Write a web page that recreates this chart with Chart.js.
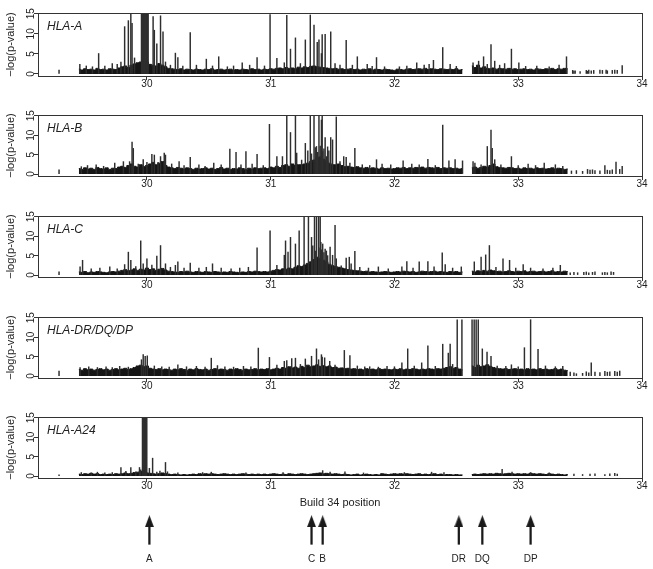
<!DOCTYPE html>
<html>
<head>
<meta charset="utf-8">
<title>HLA association scan</title>
<script src="https://cdn.jsdelivr.net/npm/chart.js@4.4.1/dist/chart.umd.min.js"></script>
<style>
  html, body { margin: 0; padding: 0; background: #fff; }
  #wrap { position: relative; width: 653px; height: 569px; overflow: hidden; }
  #wrap canvas { position: absolute; left: 0; }
</style>
</head>
<body>
<div id="wrap">
  <canvas id="p0" width="653" height="103" style="top:3px"></canvas>
  <canvas id="p1" width="653" height="101" style="top:105px"></canvas>
  <canvas id="p2" width="653" height="101" style="top:206px"></canvas>
  <canvas id="p3" width="653" height="101" style="top:307px"></canvas>
  <canvas id="p4" width="653" height="103" style="top:407px"></canvas>
  <canvas id="genes" width="653" height="64" style="top:505px"></canvas>
</div>
<script>
// axes
const xTicks = [30, 31, 32, 33, 34];
const yTicks = [0, 5, 10, 15];
const panelNames = ['HLA-A', 'HLA-B', 'HLA-C', 'HLA-DR/DQ/DP', 'HLA-A24'];

// dense background band: one value per 0.025 Mb bin from 29.45 to 33.40 (null = no markers)
const binStart = 29.45;
const binStep = 0.025;

const bandA = [
  1.2,1.0,1.3,1.1,1.2,1.0,1.4,1.1,1.2,1.0,1.3,1.2,1.1,1.5,1.8,2.0,1.6,2.2,2.5,2.8,
  3.0,3.2,3.0,2.4,2.2,2.0,2.6,2.2,1.8,1.4,1.3,1.2,1.1,1.3,1.0,1.2,1.1,1.0,1.2,1.1,
  1.0,1.2,1.1,1.3,1.0,1.1,1.2,1.0,1.1,1.2,1.0,1.1,1.0,1.2,1.1,1.0,1.3,1.1,1.2,1.0,
  1.2,1.1,1.3,1.2,1.4,1.5,1.3,1.6,1.4,1.5,1.3,1.7,1.5,1.8,1.6,1.9,2.0,1.8,1.7,1.6,
  1.5,1.4,1.3,1.4,1.2,1.3,1.1,1.2,1.3,1.1,1.2,1.0,1.2,1.1,1.3,1.0,1.2,1.1,1.0,1.2,
  1.1,1.0,0.9,1.2,1.1,1.0,1.2,1.3,1.1,1.2,1.3,1.2,1.4,1.1,1.3,1.2,1.1,1.3,1.2,1.1,
  1.2,1.1,1.3,1.0,1.1,null,null,2.0,1.6,2.2,1.5,1.8,1.4,1.3,1.5,1.2,1.4,1.3,1.2,1.4,
  1.2,1.3,1.1,1.2,1.3,1.1,1.2,1.0,1.3,1.2,1.1,1.3,1.2,1.4,1.1,1.3,1.2,1.4,1.3
];
const bandB = [
  1.4,1.2,1.6,1.3,1.5,1.2,1.7,1.4,1.3,1.6,1.2,1.5,1.4,1.8,2.0,1.7,2.2,2.6,2.0,1.8,
  2.4,1.9,2.2,2.6,3.0,2.4,2.8,3.2,2.2,1.8,1.6,1.4,1.7,1.5,1.3,1.6,1.4,1.2,1.5,1.3,
  1.4,1.6,1.3,1.5,1.2,1.4,1.7,1.3,1.5,1.2,1.4,1.3,1.6,1.4,1.2,1.5,1.3,1.6,1.4,1.5,
  1.6,1.4,1.8,1.6,2.0,1.7,2.2,2.4,2.0,2.6,2.2,2.4,2.4,2.6,2.8,3.2,3.6,4.0,4.4,3.8,
  3.4,2.8,2.4,2.4,2.6,2.2,1.9,2.0,1.8,1.7,1.9,1.6,1.5,1.7,1.4,1.6,1.5,1.3,1.6,1.4,
  1.5,1.3,1.4,1.6,1.5,1.7,1.4,1.6,1.5,1.7,1.6,1.8,1.5,1.7,1.6,1.5,1.7,1.4,1.6,1.5,
  1.6,1.4,1.5,1.3,1.4,null,null,1.6,1.8,1.5,1.7,2.0,1.8,2.2,2.6,1.9,1.7,1.6,1.5,1.7,
  1.6,1.4,1.5,1.3,1.6,1.4,1.5,1.3,1.6,1.4,1.5,1.3,1.4,1.6,1.3,1.5,1.4,1.2,1.3
];
const bandC = [
  0.8,0.7,0.9,0.6,0.8,0.7,0.9,0.8,0.7,0.6,0.8,0.9,0.8,1.0,1.2,1.4,1.1,1.3,1.6,1.2,
  1.5,1.3,1.8,1.4,1.6,1.2,1.5,1.7,1.3,1.0,0.9,0.8,0.7,0.9,0.8,1.0,0.8,0.7,0.9,0.8,
  0.7,0.9,0.8,0.7,0.9,0.8,0.6,0.8,0.7,0.9,0.8,0.7,0.6,0.8,0.7,0.9,0.8,1.0,0.9,0.8,
  0.9,0.8,1.0,1.2,1.4,1.3,1.6,1.5,1.8,1.6,2.0,2.4,2.2,2.6,3.0,3.4,4.0,4.6,4.2,3.8,
  3.4,2.8,2.4,2.2,2.0,1.8,1.6,1.4,1.3,1.2,1.1,1.0,0.9,1.0,0.8,0.9,0.8,0.7,0.8,0.9,
  0.8,0.7,0.8,0.9,0.8,1.0,0.9,0.8,0.9,0.7,0.8,1.0,0.9,0.8,0.9,1.0,0.8,0.9,0.8,0.7,
  0.9,0.8,0.9,0.7,0.8,null,null,1.0,0.8,1.1,0.9,1.2,1.0,1.3,1.1,0.9,1.0,0.8,0.9,1.1,
  0.9,0.8,1.0,0.9,1.1,0.8,0.9,1.0,0.8,0.9,1.0,0.8,0.9,1.1,0.8,0.9,0.8,1.0,0.9
];
const bandD = [
  1.7,1.5,1.9,1.6,1.8,1.5,1.7,1.9,1.6,1.8,1.5,1.7,1.9,1.6,1.8,2.0,1.7,1.9,2.2,2.6,
  2.8,2.4,2.6,2.0,1.8,1.7,1.9,1.6,1.8,1.7,1.5,1.8,1.6,1.9,1.7,1.5,1.8,1.6,1.9,1.7,
  1.6,1.8,1.5,1.7,1.9,1.6,1.8,1.7,1.5,1.8,1.6,1.9,1.7,1.5,1.8,1.6,1.7,1.9,1.6,1.8,
  1.7,1.9,1.6,1.8,2.0,1.8,2.2,2.0,2.4,2.1,2.3,2.0,2.5,2.2,2.8,2.4,2.6,2.9,2.5,2.7,
  2.4,2.6,2.2,2.3,2.0,2.1,1.9,2.0,1.8,1.9,1.7,1.8,1.6,1.9,1.7,1.8,1.6,1.9,1.7,1.8,
  1.7,1.6,1.8,1.7,1.9,1.6,1.8,1.7,1.9,1.8,1.6,1.8,1.7,1.9,1.8,1.7,1.9,1.8,2.0,2.2,
  2.4,2.0,2.2,1.8,1.6,null,null,2.6,2.2,2.8,2.4,2.6,2.9,2.5,2.2,2.0,1.9,1.8,1.9,1.7,
  1.8,1.9,1.7,1.8,1.6,1.9,1.7,1.8,1.6,1.9,1.7,1.8,1.6,1.7,1.9,1.6,1.8,1.5,1.4
];
const bandA24 = [
  0.5,0.4,0.6,0.5,0.7,0.5,0.6,0.4,0.5,0.4,0.5,0.4,0.6,0.5,0.6,0.8,0.6,0.7,0.9,1.0,
  1.2,1.0,0.8,0.7,0.6,0.5,0.6,0.8,0.6,0.5,0.4,0.5,0.4,0.3,0.4,0.3,0.4,0.5,0.4,0.6,
  0.5,0.6,0.5,0.6,0.5,0.4,0.5,0.6,0.5,0.4,0.5,0.4,0.5,0.6,0.5,0.4,0.5,0.4,0.5,0.4,
  0.5,0.4,0.5,0.6,0.5,0.4,0.5,0.4,0.6,0.5,0.4,0.5,0.6,0.5,0.4,0.5,0.6,0.7,0.8,0.6,
  0.7,0.6,0.5,0.6,0.5,0.4,0.5,0.4,0.3,0.4,0.5,0.3,0.4,0.5,0.4,0.3,0.4,0.3,0.6,0.5,
  0.4,0.5,0.6,0.5,0.6,0.5,0.6,0.5,0.4,0.5,0.6,0.4,0.5,0.4,0.5,0.6,0.4,0.5,0.3,0.4,
  0.4,0.3,0.4,0.3,0.3,null,null,0.4,0.5,0.4,0.5,0.6,0.5,0.6,0.5,0.7,0.6,0.5,0.6,0.7,
  0.6,0.5,0.6,0.5,0.6,0.5,0.7,0.6,0.5,0.6,0.5,0.4,0.6,0.5,0.4,0.5,0.4,0.3,0.4
];

// individual markers [position Mb, -log(p)], values above 15 are capped at 15
const peaksA = [
  [29.29,1.0],[29.458,2.4],[29.51,2.0],[29.56,1.8],[29.61,5.1],[29.66,2.0],[29.72,2.6],[29.76,2.4],
  [29.79,3.0],[29.82,11.8],[29.85,13.3],[29.87,15],[29.88,12.6],[29.90,4.0],
  [29.956,15],[29.962,15],[29.968,15],[29.974,15],[29.980,15],[29.986,15],[29.992,15],[29.998,15],[30.004,15],[30.010,15],
  [30.05,14.3],[30.06,10.9],[30.08,7.5],[30.11,14.5],[30.13,10.5],[30.15,3.0],[30.19,2.2],[30.23,5.2],
  [30.25,4.1],[30.29,2.0],[30.35,10.3],[30.40,2.2],[30.48,3.7],[30.53,2.0],[30.58,4.3],[30.65,1.8],
  [30.70,2.0],[30.77,2.8],[30.83,2.2],[30.89,4.1],[30.95,2.0],[30.995,14.8],[31.05,3.9],[31.11,2.8],
  [31.13,14.6],[31.16,6.2],[31.20,9.0],[31.24,2.6],[31.28,8.5],[31.32,14.7],[31.35,12.2],[31.376,7.9],
  [31.39,8.5],[31.41,5.1],[31.416,9.8],[31.44,9.9],[31.485,10.5],[31.52,2.6],[31.56,2.2],[31.61,8.4],
  [31.66,2.2],[31.70,4.3],[31.78,2.4],[31.82,1.9],[31.855,4.1],[31.92,1.8],[32.04,1.8],[32.10,2.0],
  [32.18,2.8],[32.24,2.2],[32.28,2.4],[32.315,3.4],[32.39,6.6],[32.45,2.4],[32.50,1.9],[32.635,2.8],
  [32.68,3.2],[32.72,4.3],[32.75,2.4],[32.78,7.3],[32.81,3.2],[32.85,2.2],[32.89,2.6],[32.945,6.2],
  [33.005,2.8],[33.06,1.9],[33.15,2.0],[33.25,1.8],[33.33,2.2],[33.39,4.3],
  [33.44,0.9],[33.45,0.7],[33.46,0.8],[33.50,0.6],[33.55,0.9],[33.56,0.7],[33.57,1.0],[33.59,0.8],
  [33.61,0.9],[33.66,1.0],[33.68,0.9],[33.71,1.0],[33.72,0.8],[33.76,0.9],[33.78,1.0],[33.80,0.9],[33.84,2.1]
];
const peaksB = [
  [29.29,1.1],[29.47,1.9],[29.52,2.2],[29.59,2.4],[29.65,2.0],[29.74,2.8],[29.81,3.2],[29.86,3.2],
  [29.88,8.2],[29.89,6.6],[29.93,2.6],[29.97,3.7],[30.00,3.0],[30.04,5.1],[30.06,4.9],[30.09,3.0],
  [30.11,4.5],[30.14,5.4],[30.15,4.9],[30.20,2.6],[30.26,3.2],[30.30,2.2],[30.35,4.3],[30.42,2.4],
  [30.47,2.0],[30.54,2.8],[30.60,2.4],[30.67,6.4],[30.72,5.6],[30.76,2.4],[30.80,5.8],[30.85,2.6],
  [30.89,5.1],[30.94,2.2],[30.99,12.8],[31.05,4.5],[31.095,4.5],[31.13,15],[31.16,10.7],[31.20,15],
  [31.21,5.4],[31.25,3.6],[31.28,7.9],[31.30,6.0],[31.32,15],[31.33,5.2],[31.35,15],[31.36,6.8],
  [31.37,7.1],[31.38,5.6],[31.39,15],[31.40,7.2],[31.41,13.9],
  [31.416,15],[31.42,5.8],[31.43,6.5],[31.44,9.4],[31.45,4.5],[31.46,7.0],[31.47,6.0],[31.485,9.4],[31.50,8.8],[31.53,14.7],
  [31.56,3.2],[31.59,4.5],[31.61,4.3],[31.64,2.8],[31.68,6.6],[31.74,2.4],[31.80,2.2],[31.855,3.7],
  [31.90,2.6],[31.97,2.4],[32.07,3.4],[32.14,2.6],[32.20,2.4],[32.27,3.8],[32.33,2.2],[32.39,12.6],
  [32.44,3.4],[32.49,3.7],[32.55,3.4],[32.635,3.2],[32.65,2.8],[32.70,2.4],[32.75,7.1],[32.78,11.3],
  [32.79,6.6],[32.81,3.7],[32.86,2.4],[32.945,4.5],[33.00,2.2],[33.08,2.6],[33.14,2.2],[33.21,2.8],
  [33.30,2.4],[33.36,2.0],
  [33.43,0.8],[33.47,0.9],[33.52,0.7],[33.56,1.2],[33.58,1.0],[33.60,1.1],[33.62,0.9],[33.66,0.8],
  [33.70,2.2],[33.72,1.0],[33.74,0.9],[33.76,1.1],[33.79,3.1],[33.82,1.2],[33.84,2.0]
];
const peaksC = [
  [29.29,0.8],[29.46,2.1],[29.48,3.8],[29.55,1.6],[29.62,1.8],[29.70,2.1],[29.76,1.6],[29.82,2.7],
  [29.85,5.9],[29.87,3.8],[29.91,2.2],[29.95,8.8],[29.97,2.9],[30.00,4.2],[30.04,2.6],[30.08,4.9],
  [30.11,7.6],[30.15,2.9],[30.19,2.0],[30.23,2.5],[30.25,3.4],[30.30,1.8],[30.35,3.1],[30.42,1.8],
  [30.48,2.0],[30.53,2.9],[30.60,1.8],[30.68,1.6],[30.75,1.8],[30.82,2.0],[30.89,7.0],[30.995,11.4],
  [31.05,2.5],[31.11,5.1],[31.12,8.8],[31.14,5.9],[31.16,9.7],[31.20,8.0],[31.23,11.4],[31.27,15],
  [31.305,15],[31.33,9.7],[31.34,7.5],[31.354,15],[31.36,6.2],[31.37,15],[31.387,15],[31.39,7.0],[31.40,15],[31.405,8.4],
  [31.41,6.5],[31.416,4.2],[31.42,8.0],[31.43,5.8],[31.44,6.7],[31.45,6.2],[31.46,5.0],
  [31.48,7.2],[31.50,5.1],[31.52,12.8],[31.53,4.2],[31.57,2.4],[31.61,4.4],
  [31.635,4.6],[31.65,2.9],[31.68,6.1],[31.72,2.0],[31.79,1.8],[31.87,2.1],[31.95,1.6],[32.06,2.1],
  [32.10,3.5],[32.15,1.8],[32.20,3.4],[32.27,3.5],[32.32,2.1],[32.386,5.7],[32.41,2.7],[32.47,1.8],
  [32.54,2.1],[32.645,3.4],[32.70,4.6],[32.737,5.2],[32.767,7.6],[32.82,2.0],[32.877,4.2],[32.93,3.8],
  [32.98,1.8],[33.04,2.7],[33.10,1.8],[33.20,1.6],[33.28,1.8],[33.34,2.5],
  [33.42,0.6],[33.45,0.7],[33.48,0.6],[33.53,0.7],[33.55,0.8],[33.57,0.6],[33.60,0.7],[33.62,0.8],
  [33.68,0.6],[33.70,0.7],[33.72,0.6],[33.75,0.8],[33.77,0.7]
];
const peaksD = [
  [29.29,1.3],[29.46,2.2],[29.53,2.4],[29.60,2.2],[29.67,2.4],[29.72,2.2],[29.78,2.5],[29.85,2.3],
  [29.956,4.2],[29.97,5.5],[29.986,5.1],[30.003,5.2],[30.06,2.6],[30.12,2.4],[30.18,2.3],[30.25,2.9],
  [30.32,2.4],[30.40,2.5],[30.47,2.3],[30.52,4.6],[30.57,2.7],[30.63,2.4],[30.70,2.3],[30.78,2.5],
  [30.84,2.4],[30.90,7.2],[30.99,4.8],[31.05,2.8],[31.11,3.8],[31.13,4.0],[31.17,4.5],[31.20,4.6],
  [31.24,3.0],[31.28,4.4],[31.33,5.1],[31.37,7.0],[31.387,4.2],[31.41,5.5],[31.416,4.9],[31.436,4.7],
  [31.477,3.8],[31.52,2.8],[31.595,6.6],[31.64,5.3],[31.70,2.6],[31.76,2.4],[31.80,2.4],[31.87,2.3],
  [31.94,2.5],[32.00,2.4],[32.06,3.4],[32.107,7.0],[32.16,2.6],[32.22,3.4],[32.27,7.8],[32.33,2.5],
  [32.39,8.2],[32.435,5.9],[32.45,8.2],[32.47,3.0],[32.507,14.5],[32.545,14.5],[32.627,14.5],[32.644,14.5],
  [32.66,14.5],[32.677,14.5],[32.71,7.0],[32.748,6.2],[32.78,5.1],[32.83,2.6],[32.90,2.5],[32.945,2.9],
  [33.00,2.4],[33.05,7.3],[33.10,14.5],[33.16,6.9],[33.22,2.6],[33.30,2.4],[33.36,2.5],
  [33.42,1.0],[33.45,0.8],[33.47,0.6],[33.52,0.7],[33.55,1.1],[33.57,0.8],[33.59,3.4],[33.62,1.0],
  [33.66,0.9],[33.70,1.2],[33.72,1.0],[33.74,1.1],[33.78,1.2],[33.80,1.0],[33.82,1.3]
];
const peaksA24 = [
  [29.29,0.3],[29.47,0.9],[29.55,0.8],[29.60,1.0],[29.66,0.8],[29.72,0.9],[29.79,2.2],[29.83,1.2],
  [29.87,2.2],[29.91,1.1],[29.94,2.2],[29.95,1.6],
  [29.964,15],[29.970,15],[29.976,15],[29.982,15],[29.988,15],[29.994,15],[29.999,15],
  [30.02,2.0],[30.046,4.6],[30.08,1.0],[30.105,1.3],[30.15,3.5],[30.166,1.1],[30.25,0.8],[30.45,0.9],
  [30.52,1.0],[30.80,0.8],[31.10,0.9],[31.42,1.4],[31.48,1.0],[31.60,1.1],[31.75,0.8],[32.08,0.9],
  [32.30,1.0],[32.40,0.9],[32.87,1.7],[32.95,1.0],[33.10,0.9],[33.25,0.8],
  [33.45,0.5],[33.52,0.4],[33.58,0.5],[33.62,0.6],[33.70,0.4],[33.74,0.6],[33.78,0.7],[33.80,0.5]
];

// gene positions for the arrows under the plots
const geneLabels = ['A', 'C', 'B', 'DR', 'DQ', 'DP'];
const genePos = [30.02, 31.33, 31.42, 32.52, 32.71, 33.10];

const FONT = '"Liberation Sans", Arial, Helvetica, sans-serif';
const INK = '#222';
const X_MIN = 29.12;
const X_MAX = 34;

Chart.defaults.font.family = FONT;
Chart.defaults.color = INK;

// box around plot, rotated y labels and panel name (R style)
const framePlugin = {
    id: 'frame',
    afterDraw(chart, args, opts) {
        const { ctx, chartArea: a } = chart;
        const y = chart.scales.y;
        ctx.save();
        ctx.strokeStyle = '#333';
        ctx.lineWidth = 1;
        ctx.strokeRect(Math.round(a.left) + 0.5, Math.round(a.top) + 0.5,
            Math.round(a.right - a.left), Math.round(a.bottom - a.top));

        ctx.fillStyle = INK;
        ctx.font = '10px ' + FONT;
        ctx.textAlign = 'center';
        ctx.textBaseline = 'middle';
        yTicks.forEach(v => {
            ctx.save();
            ctx.translate(a.left - 7, y.getPixelForValue(v));
            ctx.rotate(-Math.PI / 2);
            ctx.fillText(String(v), 0, 0);
            ctx.restore();
        });

        ctx.font = 'italic 12px ' + FONT;
        ctx.textAlign = 'left';
        ctx.fillText(opts.text, a.left + 9, a.top + 14);
        ctx.restore();
    }
};

function drawPanel(id, name, band, peaks, xHeight, xTitle) {
    const bandPts = band.map((v, i) => ({ x: binStart + i * binStep, y: v }));
    return new Chart(document.getElementById(id), {
        type: 'bar',
        data: {
            datasets: [
                {
                    type: 'bar',
                    data: peaks.map(p => ({ x: p[0], y: p[1] })),
                    backgroundColor: '#2e2e2e',
                    barThickness: 0.8,
                    order: 1
                },
                {
                    type: 'line',
                    data: bandPts,
                    stepped: 'middle',
                    fill: 'origin',
                    backgroundColor: '#151515',
                    borderColor: '#151515',
                    borderWidth: 1,
                    pointRadius: 0,
                    order: 2
                }
            ]
        },
        options: {
            responsive: false,
            animation: false,
            events: [],
            layout: { padding: { top: 10, right: 11, left: 0, bottom: 0 } },
            plugins: {
                legend: { display: false },
                tooltip: { enabled: false },
                frame: { text: name }
            },
            scales: {
                x: {
                    type: 'linear',
                    min: X_MIN,
                    max: X_MAX,
                    offset: false,
                    afterBuildTicks: s => { s.ticks = xTicks.map(v => ({ value: v })); },
                    afterFit: s => { s.height = xHeight; },
                    grid: { offset: false, drawOnChartArea: false, drawTicks: true, tickLength: 4, color: '#333' },
                    border: { display: false },
                    ticks: { font: { size: 10 }, color: INK, padding: -2, maxRotation: 0, autoSkip: false },
                    title: xTitle
                        ? { display: true, text: xTitle, font: { size: 11 }, color: INK, padding: { top: 0, bottom: 0 } }
                        : { display: false }
                },
                y: {
                    min: -0.5,
                    max: 15.2,
                    afterBuildTicks: s => { s.ticks = yTicks.map(v => ({ value: v })); },
                    afterFit: s => { s.width = 38; },
                    grid: { drawOnChartArea: false, drawTicks: true, tickLength: 4, color: '#333' },
                    border: { display: false },
                    ticks: { display: false },
                    title: { display: true, text: '\u2212log(p-value)', font: { size: 11 }, color: INK, padding: { top: 4, bottom: 0 } }
                }
            }
        },
        plugins: [framePlugin]
    });
}

drawPanel('p0', panelNames[0], bandA, peaksA, 30);
drawPanel('p1', panelNames[1], bandB, peaksB, 30);
drawPanel('p2', panelNames[2], bandC, peaksC, 30);
drawPanel('p3', panelNames[3], bandD, peaksD, 30);
drawPanel('p4', panelNames[4], bandA24, peaksA24, 32, 'Build 34 position');

// arrow head used as point style
const head = document.createElement('canvas');
head.width = 9;
head.height = 12;
(function () {
    const h = head.getContext('2d');
    h.fillStyle = '#1a1a1a';
    h.beginPath();
    h.moveTo(4.5, 0);
    h.lineTo(9, 12);
    h.lineTo(0, 12);
    h.closePath();
    h.fill();
})();

new Chart(document.getElementById('genes'), {
    type: 'bar',
    data: {
        datasets: [
            {
                type: 'bar',
                data: genePos.map(x => ({ x, y: [0.05, 0.72] })),
                backgroundColor: '#1a1a1a',
                barThickness: 1.6
            },
            {
                type: 'scatter',
                data: genePos.map(x => ({ x, y: 0.73 })),
                pointStyle: head,
                pointRadius: 6
            }
        ]
    },
    options: {
        responsive: false,
        animation: false,
        events: [],
        layout: { padding: { top: 4, right: 11, left: 38, bottom: 0 } },
        plugins: { legend: { display: false }, tooltip: { enabled: false } },
        scales: {
            x: {
                type: 'linear',
                min: X_MIN,
                max: X_MAX,
                offset: false,
                afterBuildTicks: s => { s.ticks = genePos.map(v => ({ value: v })); },
                afterFit: s => { s.height = 23; },
                grid: { display: false },
                border: { display: false },
                ticks: {
                    font: { size: 10 },
                    color: INK,
                    padding: -1,
                    autoSkip: false,
                    maxRotation: 0,
                    callback: (v, i) => geneLabels[i]
                }
            },
            y: { display: false, min: 0, max: 1 }
        }
    }
});
</script>
</body>
</html>
